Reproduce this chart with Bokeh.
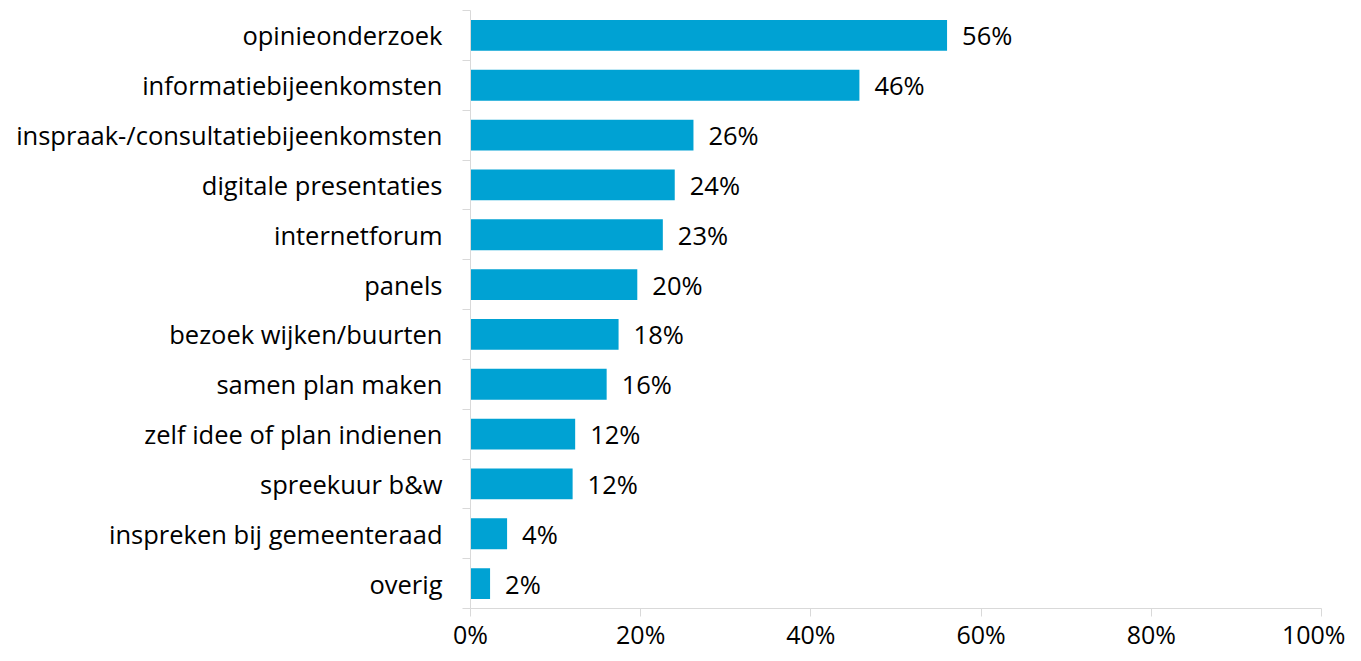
from bokeh.plotting import figure
from bokeh.models import Range1d, FixedTicker, ColumnDataSource
from bokeh.core.properties import value
from bokeh.embed import file_html
from bokeh.resources import INLINE

categories = ["opinieonderzoek", "informatiebijeenkomsten", "inspraak-/consultatiebijeenkomsten",
              "digitale presentaties", "internetforum", "panels", "bezoek wijken/buurten",
              "samen plan maken", "zelf idee of plan indienen", "spreekuur b&w",
              "inspreken bij gemeenteraad", "overig"]
values = [56.0, 45.7, 26.2, 24.0, 22.6, 19.6, 17.4, 16.0, 12.3, 12.0, 4.3, 2.3]
value_labels = ["56%", "46%", "26%", "24%", "23%", "20%", "18%", "16%", "12%", "12%", "4%", "2%"]
x_ticks = [0, 20, 40, 60, 80, 100]

FONT = "Open Sans"
FSIZE = "25.5px"
GREY = "#d9d9d9"
BAR = "#00a2d3"

n = len(categories)
ypos = [i + 0.5 for i in range(n)]

p = figure(width=1345, height=653, output_backend="svg", toolbar_location=None,
           x_range=Range1d(0, 100), y_range=Range1d(n, 0),
           min_border_left=470, min_border_top=10, min_border_right=24, min_border_bottom=43)
p.outline_line_color = None
p.grid.visible = False
p.background_fill_color = "white"
p.border_fill_color = "white"

src = ColumnDataSource(dict(y=ypos, v=values, lab=value_labels))
p.hbar(y="y", left=0, right="v", height=0.62, source=src, fill_color=BAR, line_color=None)
p.text(x="v", y="y", text="lab", source=src, x_offset=15, text_baseline="middle",
       text_align="left", text_font=value(FONT), text_font_size=FSIZE, text_color="#000000")

# y axis
ya = p.yaxis[0]
ya.ticker = FixedTicker(ticks=ypos, minor_ticks=list(range(n + 1)))
ya.major_label_overrides = {y: c for y, c in zip(ypos, categories)}
ya.major_tick_line_color = None
ya.minor_tick_line_color = GREY
ya.minor_tick_out = 8
ya.minor_tick_in = 0
ya.axis_line_color = GREY
ya.major_label_standoff = 20
ya.major_label_text_font = FONT
ya.major_label_text_font_size = FSIZE
ya.major_label_text_color = "#000000"

# x axis
xa = p.xaxis[0]
xa.ticker = FixedTicker(ticks=x_ticks)
xa.major_label_overrides = {t: f"{t}%" for t in x_ticks}
xa.major_tick_line_color = GREY
xa.major_tick_out = 8
xa.major_tick_in = 0
xa.minor_tick_line_color = None
xa.axis_line_color = GREY
xa.major_label_standoff = 0
xa.major_label_text_font = FONT
xa.major_label_text_font_size = "25px"
xa.major_label_text_color = "#000000"

open("out.html", "w").write(file_html(p, INLINE))
